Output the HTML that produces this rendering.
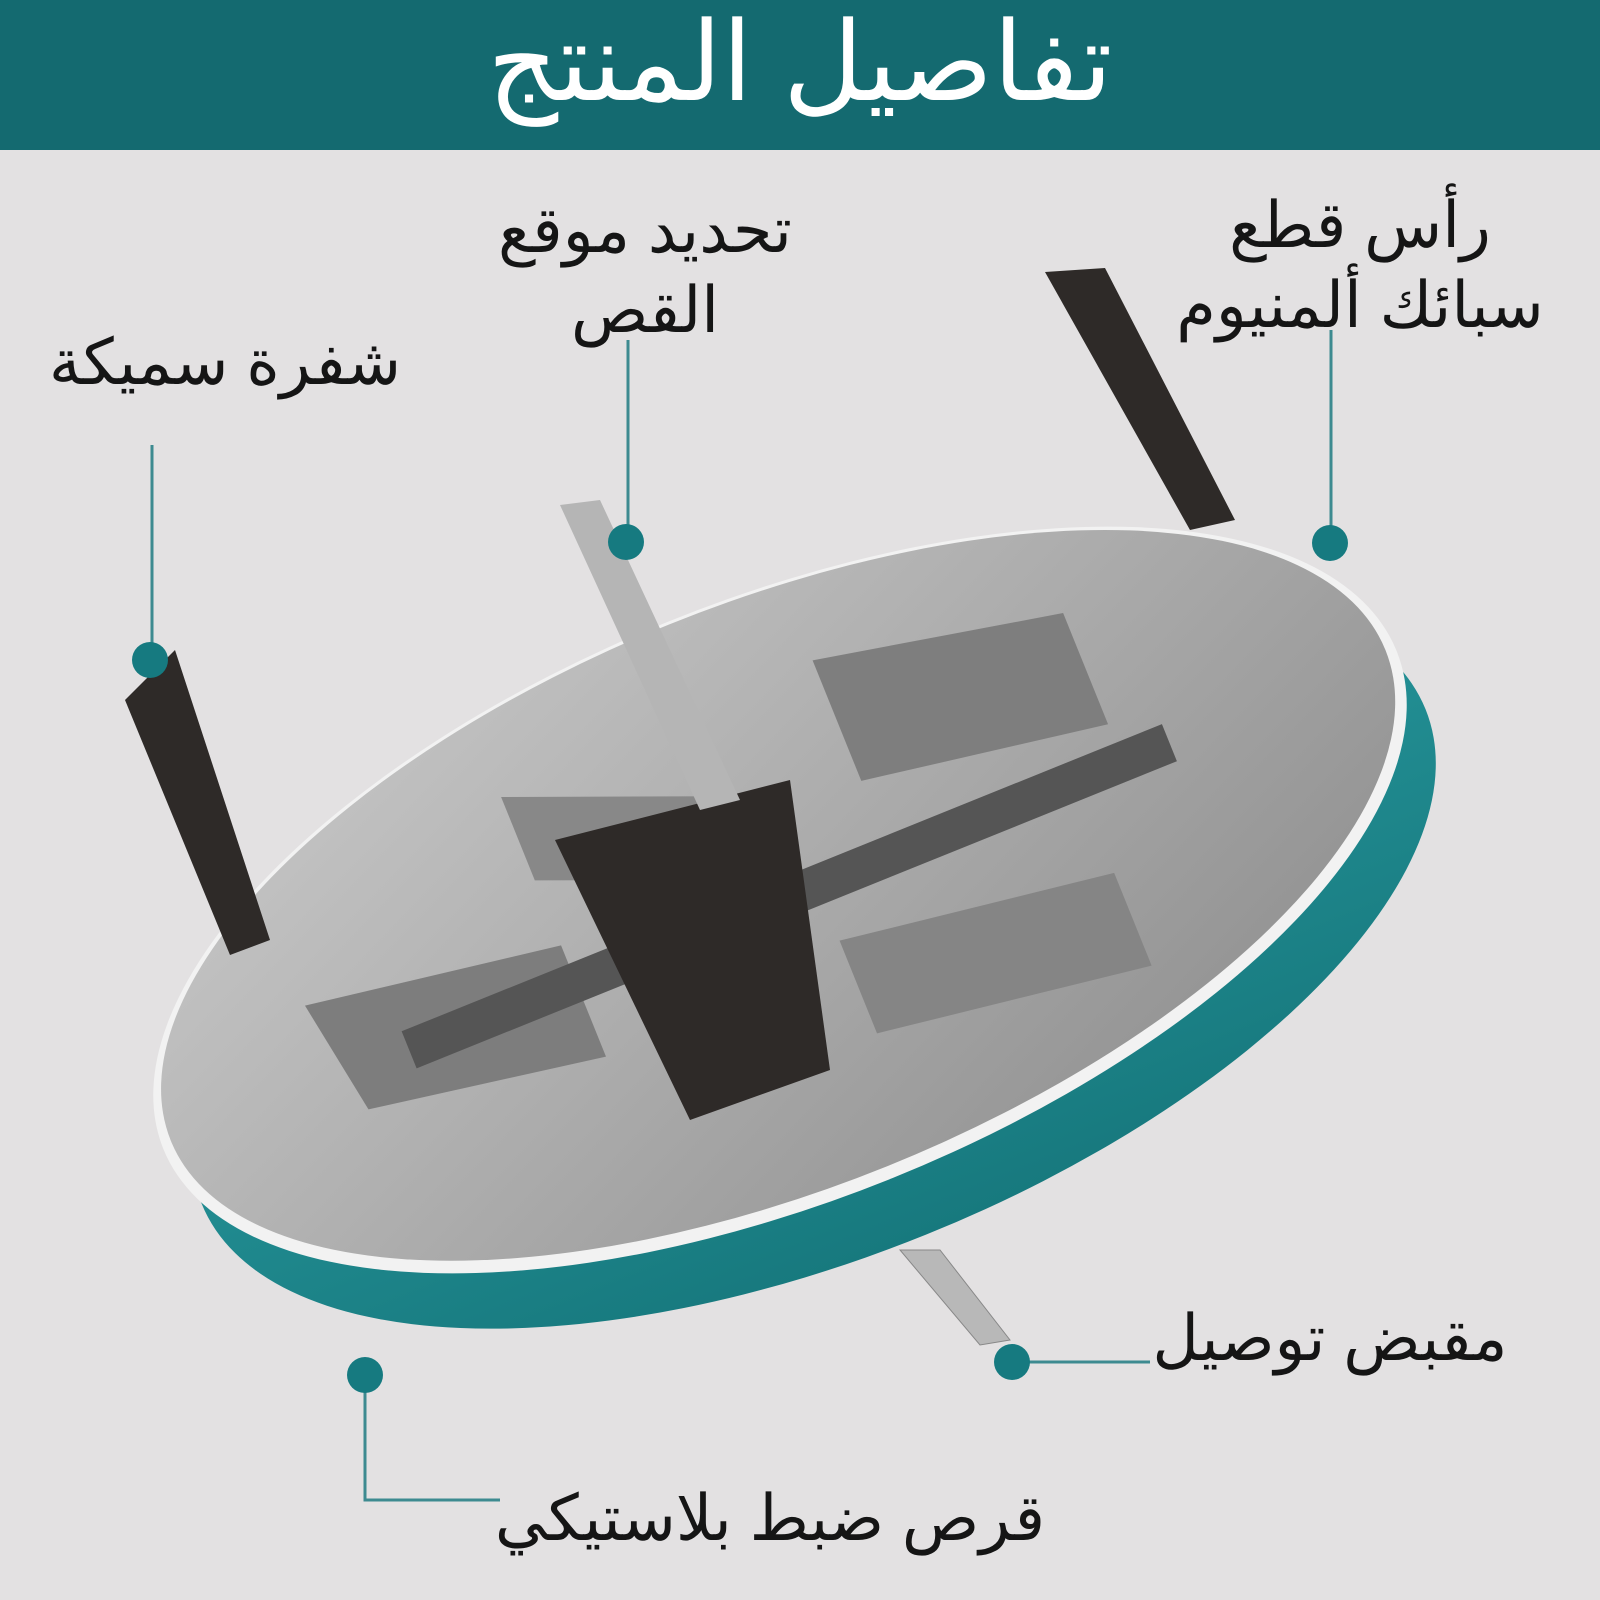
<!DOCTYPE html>
<html><head><meta charset="utf-8">
<style>
html,body{margin:0;padding:0}
body{width:1600px;height:1600px;background:#e3e1e2;position:relative;overflow:hidden;font-family:"Liberation Sans","Noto Sans CJK SC",sans-serif}
.hdr{position:absolute;left:0;top:0;width:1600px;height:150px;background:#146a70;color:#fff;text-align:center;font-size:110px;line-height:125px}
.t{position:absolute;color:#151515;font-size:64px;text-align:center;direction:rtl;line-height:80px;white-space:nowrap}
svg{position:absolute;left:0;top:0}
</style></head><body>
<svg width="1600" height="1600" viewBox="0 0 1600 1600">
<defs>
<linearGradient id="s" x1="0" y1="0" x2="1" y2="1"><stop offset="0" stop-color="#c9c9c9"/><stop offset="1" stop-color="#8d8d8d"/></linearGradient>
<linearGradient id="tl" x1="0" y1="0" x2="0" y2="1"><stop offset="0" stop-color="#2a9da2"/><stop offset="1" stop-color="#17797e"/></linearGradient>
</defs>
<g transform="rotate(-22 780 900)">
<ellipse cx="790" cy="965" rx="660" ry="300" fill="url(#tl)"/>
<ellipse cx="780" cy="900" rx="665" ry="300" fill="#f2f2f2"/>
<ellipse cx="780" cy="895" rx="655" ry="292" fill="url(#s)"/>
<path d="M300 820 L560 860 L560 980 L320 940Z" fill="#7d7d7d"/>
<path d="M560 700 L760 780 L760 870 L560 790Z" fill="#888"/>
<path d="M900 690 L1150 740 L1150 860 L900 820Z" fill="#7e7e7e"/>
<path d="M820 960 L1100 1000 L1100 1100 L820 1060Z" fill="#858585"/>
<rect x="380" y="880" width="820" height="40" fill="#555"/>
</g>
<path d="M555 840 L790 780 L830 1070 L690 1120Z" fill="#2e2a28"/>
<path d="M125 700 L175 650 L270 940 L230 955Z" fill="#2e2a28"/>
<path d="M1045 272 L1105 268 L1235 520 L1190 530Z" fill="#2e2a28"/>
<path d="M560 505 L600 500 L740 800 L700 810Z" fill="#b5b5b5"/>
<path d="M900 1250 L940 1250 L1010 1340 L980 1345Z" fill="#b8b8b8" stroke="#888"/>
<g stroke="#3d8a90" stroke-width="3" fill="none">
<path d="M152 445 V660"/><path d="M628 340 V542"/><path d="M1331 330 V543"/>
<path d="M1012 1362 H1150"/><path d="M365 1375 V1500 H500"/>
</g>
<g fill="#167a80">
<circle cx="150" cy="660" r="18"/><circle cx="626" cy="542" r="18"/><circle cx="1330" cy="543" r="18"/>
<circle cx="1012" cy="1362" r="18"/><circle cx="365" cy="1375" r="18"/>
</g>
</svg>
<div class="hdr">تفاصيل المنتج</div>
<div class="t" style="left:40px;top:322px;width:370px">شفرة سميكة</div>
<div class="t" style="left:460px;top:190px;width:370px">تحديد موقع<br>القص</div>
<div class="t" style="left:1160px;top:185px;width:400px">رأس قطع<br>سبائك ألمنيوم</div>
<div class="t" style="left:1140px;top:1298px;width:380px">مقبض توصيل</div>
<div class="t" style="left:490px;top:1478px;width:560px">قرص ضبط بلاستيكي</div>
</body></html>
